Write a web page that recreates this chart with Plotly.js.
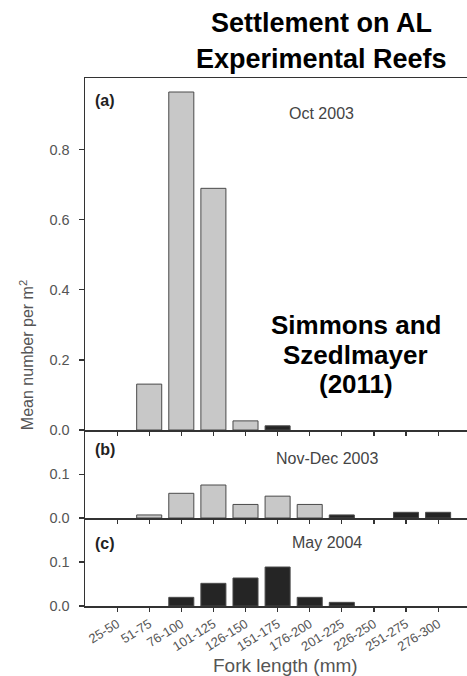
<!DOCTYPE html>
<html>
<head>
<meta charset="utf-8">
<script src="https://cdn.plot.ly/plotly-3.0.1.min.js"></script>
<style>html,body{margin:0;padding:0;background:#fff;}#chart{width:467px;height:676px;}</style>
</head>
<body>
<div id="chart"></div>
<script>
// ---- data ----
var categories = ["25-50","51-75","76-100","101-125","126-150","151-175","176-200","201-225","226-250","251-275","276-300"];
// (a) Oct 2003
var octGray  = [null, 0.131, 0.965, 0.690, 0.026, null, null, null, null, null, null];
var octBlack = [null, null, null, null, null, 0.012, null, null, null, null, null];
// (b) Nov-Dec 2003
var novGray  = [null, 0.007, 0.0565, 0.0755, 0.031, 0.050, 0.031, null, null, null, null];
var novBlack = [null, null, null, null, null, null, null, 0.007, null, 0.013, 0.013];
// (c) May 2004
var mayBlack = [null, null, 0.0197, 0.0515, 0.0636, 0.0886, 0.0197, 0.0083, null, null, null];
var yTicksA = [0, 0.2, 0.4, 0.6, 0.8];
var yTicksBC = [0, 0.1];

var FONT = "Liberation Sans, Arial, sans-serif";
var GRAYFILL = "#c8c8c8", DARKFILL = "#252525", EDGE = "#4a4a4a", AXC = "#333333", TXT = "#555555";
var BW = 0.78;

function bar(y, xa, ya, fill) {
  return {type: "bar", x: categories, y: y, xaxis: xa, yaxis: ya, width: BW,
    marker: {color: fill, line: {color: EDGE, width: 1}}, hoverinfo: "x+y", showlegend: false};
}
var data = [
  bar(octGray, "x3", "y3", GRAYFILL), bar(octBlack, "x3", "y3", DARKFILL),
  bar(novGray, "x2", "y2", GRAYFILL), bar(novBlack, "x2", "y2", DARKFILL),
  bar(mayBlack, "x", "y", DARKFILL)
];

function xax(anchor, labels, mirror) {
  return {anchor: anchor, type: "category", categoryorder: "array", categoryarray: categories,
    range: [-1, 10.9], showline: true, linecolor: AXC, linewidth: 1.5, mirror: mirror,
    ticks: "outside", ticklen: 4, tickwidth: 1.2, tickcolor: AXC,
    showticklabels: labels, tickangle: -32, tickfont: {family: FONT, size: 13, color: TXT},
    showgrid: false, zeroline: false, fixedrange: true};
}
function yax(domain, range, tv) {
  return {domain: domain, range: range, tickvals: tv, tickformat: ".1f",
    showline: true, linecolor: AXC, linewidth: 1.5, ticks: "outside", ticklen: 5, tickwidth: 1.2, tickcolor: AXC,
    ticklabelstandoff: 6,
    tickfont: {family: FONT, size: 14.5, color: TXT}, showgrid: false, zeroline: false, fixedrange: true};
}
function note(text, x, y, size, color, extra) {
  var a = {text: text, xref: "paper", yref: "paper", x: x, y: y, xanchor: "center", yanchor: "middle",
    showarrow: false, align: "center", font: {family: FONT, size: size, color: color}};
  for (var k in (extra || {})) a[k] = extra[k];
  return a;
}
var d1 = 88/528, d2 = 176/528;
var layout = {
  width: 467, height: 676, margin: {l: 85, r: 0, t: 78, b: 70},
  paper_bgcolor: "#fff", plot_bgcolor: "#fff", barmode: "overlay", bargap: 0,
  font: {family: FONT},
  xaxis: xax("y", true, false),
  xaxis2: xax("y2", false, false),
  xaxis3: xax("y3", false, true),
  yaxis: yax([0, d1], [0, 0.2], yTicksBC),
  yaxis2: yax([d1, d2], [0, 0.2014], yTicksBC),
  yaxis3: yax([d2, 1], [0, 1.005], yTicksA),
  annotations: [
    note("<b>Settlement on AL</b>", 0.62, 1.105, 27, "#000"),
    note("<b>Experimental Reefs</b>", 0.62, 1.036, 27, "#000"),
    note("<b>Simmons and</b>", 0.709, 0.532, 26, "#000"),
    note("<b>Szedlmayer</b>", 0.709, 0.475, 26, "#000"),
    note("<b>(2011)</b>", 0.709, 0.420, 26, "#000"),
    note("<b>(a)</b>", 0.021, 0.957, 16, "#222", {xanchor: "left"}),
    note("<b>(b)</b>", 0.021, 0.2955, 16, "#222", {xanchor: "left"}),
    note("<b>(c)</b>", 0.021, 0.119, 16, "#222", {xanchor: "left"}),
    note("Oct 2003", 0.620, 0.932, 16, "#444"),
    note("Nov-Dec 2003", 0.6335, 0.280, 16, "#444"),
    note("May 2004", 0.6335, 0.121, 16, "#444"),
    note("Mean number per m<sup>2</sup>", -0.152, 0.475, 16, TXT, {textangle: -90}),
    note("Fork length (mm)", 0.524, -0.112, 19, TXT)
  ]
};
Plotly.newPlot("chart", data, layout, {staticPlot: true, displayModeBar: false});
</script>
</body>
</html>
